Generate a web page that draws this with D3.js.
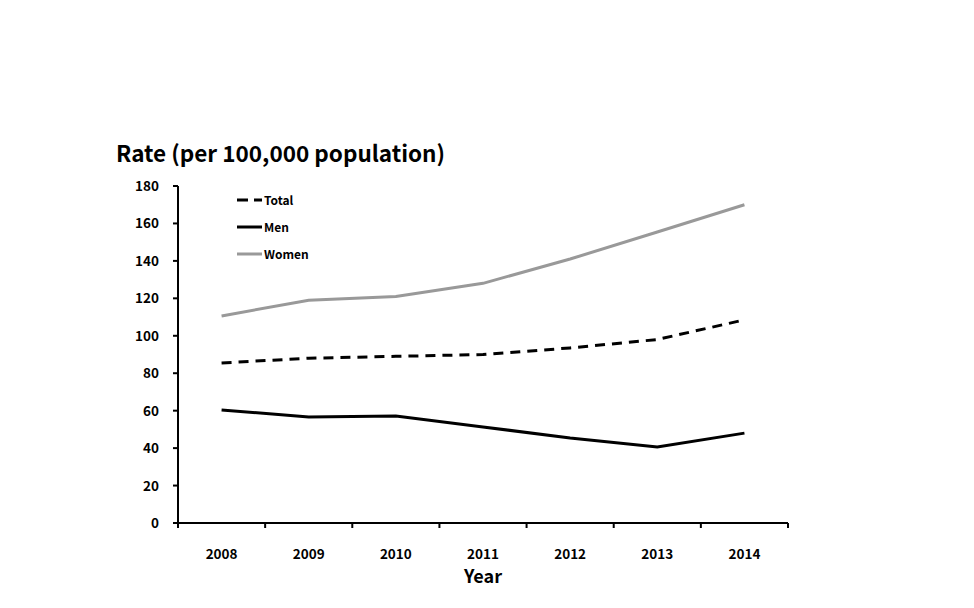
<!DOCTYPE html>
<html><head><meta charset="utf-8">
<script src="https://cdn.jsdelivr.net/npm/d3@7"></script>
<style>body{margin:0;background:#fff;} text{font-family:"Noto Sans CJK KR","Open Sans",sans-serif;font-weight:bold;}</style>
</head><body><svg id="c" width="974" height="608"></svg>
<script>
const years = ["2008","2009","2010","2011","2012","2013","2014"];
const total = [85.5, 88, 89, 90, 93.5, 98, 108.5];
const men = [60.4, 56.6, 57.2, 51.3, 45.4, 40.6, 48];
const women = [110.6, 119, 121, 128, 141, 155.4, 170];
const yTicks = [0,20,40,60,80,100,120,140,160,180];
const seriesNames = ["Total","Men","Women"];

const svg = d3.select("#c");
const L=178, R=788, T=186, B=523;
const x = d3.scaleBand().domain(years).range([L,R]);
const y = d3.scaleLinear().domain([0,180]).range([B,T]);

svg.append("line").attr("x1",L).attr("x2",L).attr("y1",T).attr("y2",B).attr("stroke","#000").attr("stroke-width",2);
svg.append("line").attr("x1",L).attr("x2",R).attr("y1",B).attr("y2",B).attr("stroke","#000").attr("stroke-width",2);
yTicks.forEach(t=>{
  svg.append("line").attr("x1",L-5).attr("x2",L).attr("y1",y(t)).attr("y2",y(t)).attr("stroke","#000").attr("stroke-width",2);
  svg.append("text").attr("x",L-19).attr("y",y(t)+5).attr("text-anchor","end").attr("font-size",13.5).text(t);
});
const bounds = years.map(d=>x(d)).concat([R]);
bounds.forEach(b=>{
  svg.append("line").attr("x1",b).attr("x2",b).attr("y1",B).attr("y2",B+5).attr("stroke","#000").attr("stroke-width",2);
});
years.forEach(d=>{
  svg.append("text").attr("x",x(d)+x.bandwidth()/2).attr("y",559).attr("text-anchor","middle").attr("font-size",13.5).text(d);
});
svg.append("text").attr("x",483).attr("y",583).attr("text-anchor","middle").attr("font-size",18).text("Year");
svg.append("text").attr("x",116).attr("y",162).attr("font-size",22.5).text("Rate (per 100,000 population)");

const line = d3.line().x((d,i)=>x(years[i])+x.bandwidth()/2).y(d=>y(d));
const styles = [
  {data: total, color:"#000", dash:"10,7"},
  {data: men, color:"#000", dash:null},
  {data: women, color:"#999", dash:null}
];
styles.forEach(s=>{
  svg.append("path").attr("d",line(s.data)).attr("fill","none").attr("stroke",s.color).attr("stroke-width",3).attr("stroke-dasharray",s.dash);
});
const ly=[200,227,254];
styles.forEach((s,i)=>{
  svg.append("line").attr("x1",237).attr("x2",262).attr("y1",ly[i]).attr("y2",ly[i]).attr("stroke",s.color).attr("stroke-width",3).attr("stroke-dasharray",s.dash?"11,6":null);
  svg.append("text").attr("x",264).attr("y",ly[i]+5).attr("font-size",12).text(seriesNames[i]);
});
</script></body></html>
